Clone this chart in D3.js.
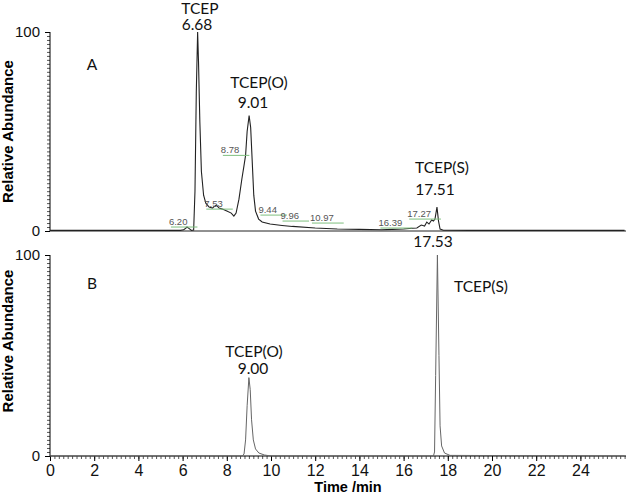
<!DOCTYPE html>
<html>
<head>
<meta charset="utf-8">
<script src="https://cdn.jsdelivr.net/npm/d3@7"></script>
<style>
body { margin: 0; background: #fff; }
</style>
</head>
<body>
<div id="chart"></div>
<script>
// trace A: time (min) and relative abundance
var timesA = [0, 5.9, 6.05, 6.15, 6.2, 6.3, 6.4, 6.5, 6.56, 6.62, 6.68, 6.72, 6.78, 6.85, 6.95, 7.05, 7.2, 7.35, 7.45, 7.53, 7.65, 7.8, 8.0, 8.2, 8.32, 8.42, 8.55, 8.68, 8.78, 8.85, 8.92, 9.01, 9.08, 9.15, 9.22, 9.3, 9.44, 9.6, 9.96, 10.5, 10.97, 12, 13, 14, 15, 15.5, 16.0, 16.39, 16.6, 16.8, 16.95, 17.05, 17.15, 17.27, 17.35, 17.42, 17.51, 17.58, 17.65, 17.8, 19, 26];
var valuesA = [0.3, 0.3, 0.6, 1.5, 2.0, 1.2, 0.3, 0.5, 20, 70, 100, 85, 55, 30, 18, 14, 12, 11.5, 12.5, 13, 11.5, 11, 10, 9, 7.5, 9, 16, 26, 33, 38, 50, 58, 52, 35, 18, 10, 6, 4.5, 3.5, 2.8, 2.3, 1.5, 1, 0.8, 0.6, 0.8, 1.0, 1.4, 1.5, 3, 2.5, 4.5, 3.5, 5.5, 5, 6, 12, 5, 1, 0.4, 0.3, 0.3];

// trace B
var timesB = [0, 8.7, 8.78, 8.85, 8.92, 9.0, 9.06, 9.12, 9.2, 9.3, 9.45, 9.7, 10, 17.35, 17.4, 17.45, 17.53, 17.6, 17.65, 17.72, 17.85, 18.1, 26];
var valuesB = [0, 0, 1, 8, 25, 39, 33, 18, 8, 3.5, 1.5, 0.5, 0, 0, 2, 40, 100, 50, 15, 5, 1.5, 0.3, 0];

// small peak labels in A: text, time, abundance where label sits
var smallLabels = ["6.20", "7.53", "8.78", "9.44", "9.96", "10.97", "16.39", "17.27"];
var smallLabelT = [5.8, 7.4, 8.15, 9.85, 10.85, 12.3, 15.4, 16.7];
var smallLabelV = [3, 12, 39, 9, 6, 5, 2.5, 7];

var xTicks = [0, 2, 4, 6, 8, 10, 12, 14, 16, 18, 20, 22, 24];
var yTicks = [0, 100];

var width = 626, height = 496;

var svg = d3.select("#chart")
    .append("svg")
    .attr("width", width)
    .attr("height", height);

var x_scale = d3.scaleLinear()
    .domain([0, 26])
    .range([50, 50 + 26 * 22.1]);

var yA = d3.scaleLinear().domain([0, 100]).range([231, 32]);
var yB = d3.scaleLinear().domain([0, 100]).range([456, 255]);

function drawY(y) {
    // minor ticks
    svg.append("g")
        .attr("transform", "translate(50,0)")
        .call(d3.axisLeft(y).tickValues(d3.range(0, 101, 2)).tickSize(3).tickFormat(""))
        .call(function(g) { g.select(".domain").remove(); })
        .selectAll("line").attr("stroke", "#555");
    var ax = svg.append("g")
        .attr("transform", "translate(50,0)")
        .call(d3.axisLeft(y).tickValues(yTicks).tickSize(5).tickPadding(5));
    ax.select(".domain").attr("d", "M0," + y(100) + "V" + y(0));
    ax.selectAll("text")
        .attr("font-family", "Liberation Sans, Arial")
        .attr("font-size", 15)
        .attr("fill", "#111");
}

drawY(yA);
drawY(yB);

// x axis for B with minor ticks
svg.append("g")
    .attr("transform", "translate(0,456)")
    .call(d3.axisBottom(x_scale).tickValues(d3.range(0, 26.01, 0.2)).tickSize(3).tickFormat(""))
    .call(function(g) { g.select(".domain").remove(); })
    .selectAll("line").attr("stroke", "#555");
var xAx = svg.append("g")
    .attr("transform", "translate(0,456)")
    .call(d3.axisBottom(x_scale).tickValues(xTicks).tickSize(5).tickPadding(4));
xAx.select(".domain").attr("d", "M50,0H626");
xAx.selectAll("text")
    .attr("font-family", "Liberation Sans, Arial")
    .attr("font-size", 16)
    .attr("fill", "#111");

// baseline of A
svg.append("line")
    .attr("x1", 50).attr("x2", 626)
    .attr("y1", yA(0)).attr("y2", yA(0))
    .attr("stroke", "#222");

var dataA = timesA.map(function(t, i) { return [t, valuesA[i]]; });
var dataB = timesB.map(function(t, i) { return [t, valuesB[i]]; });

svg.append("path")
    .datum(dataA)
    .attr("fill", "none")
    .attr("stroke", "#222")
    .attr("stroke-width", 1.1)
    .attr("d", d3.line()
        .x(function(d) { return x_scale(d[0]); })
        .y(function(d) { return yA(d[1]); }));

svg.append("path")
    .datum(dataB)
    .attr("fill", "none")
    .attr("stroke", "#666")
    .attr("stroke-width", 1)
    .attr("d", d3.line()
        .x(function(d) { return x_scale(d[0]); })
        .y(function(d) { return yB(d[1]); }));

// small labels with green underlines
smallLabels.forEach(function(s, i) {
    var lx = x_scale(smallLabelT[i]), ly = yA(smallLabelV[i]);
    var t = svg.append("text")
        .text(s)
        .attr("x", lx)
        .attr("y", ly)
        .attr("text-anchor", "middle")
        .attr("font-family", "Liberation Sans, Arial")
        .attr("font-size", 9.5)
        .attr("fill", "#555");
    var w = t.node().getComputedTextLength();
    svg.append("line")
        .attr("x1", lx - w / 2 + 2).attr("x2", lx + w / 2 + 10)
        .attr("y1", ly + 2).attr("y2", ly + 2)
        .attr("stroke", "#7fbf7f")
        .attr("stroke-width", 1);
});

// big labels
var bigText = ["A", "TCEP", "6.68", "TCEP(O)", "9.01", "TCEP(S)", "17.51", "17.53", "B", "TCEP(O)", "9.00", "TCEP(S)"];
var bigX = [92, 200, 197, 259, 253, 442, 435, 433, 92, 254, 253, 481];
var bigY = [70, 14, 30, 88, 108, 173, 195, 247, 289, 357, 374, 292];
bigText.forEach(function(s, i) {
    svg.append("text")
        .text(s)
        .attr("x", bigX[i])
        .attr("y", bigY[i])
        .attr("text-anchor", "middle")
        .attr("font-family", "Lato, Open Sans, sans-serif")
        .attr("font-size", 15.5)
        .attr("fill", "#111");
});

// axis titles
svg.append("text")
    .text("Relative Abundance")
    .attr("transform", "translate(13," + ((yA(0) + yA(100)) / 2) + ") rotate(-90)")
    .attr("text-anchor", "middle")
    .attr("font-family", "Liberation Sans, Arial")
    .attr("font-weight", "bold")
    .attr("font-size", 15);
svg.append("text")
    .text("Relative Abundance")
    .attr("transform", "translate(13,341) rotate(-90)")
    .attr("text-anchor", "middle")
    .attr("font-family", "Liberation Sans, Arial")
    .attr("font-weight", "bold")
    .attr("font-size", 15);
svg.append("text")
    .text("Time /min")
    .attr("x", 348)
    .attr("y", 492)
    .attr("text-anchor", "middle")
    .attr("font-family", "Liberation Sans, Arial")
    .attr("font-weight", "bold")
    .attr("font-size", 14.5);
</script>
</body>
</html>
